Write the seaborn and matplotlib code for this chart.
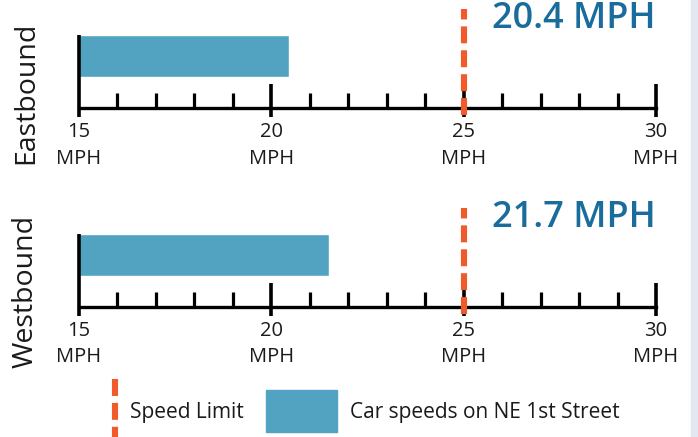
import matplotlib
matplotlib.use("Agg")
import matplotlib.pyplot as plt
from matplotlib.lines import Line2D
from matplotlib.patches import Rectangle
import seaborn as sns
import pandas as pd

# values
directions = ["Eastbound", "Westbound"]
bar_speeds = [20.45, 21.5]
speed_labels = ["20.4 MPH", "21.7 MPH"]
speed_limit = 25
major_ticks = [15, 20, 25, 30]
minor_ticks = list(range(16, 30))
tick_labels = ["15\nMPH", "20\nMPH", "25\nMPH", "30\nMPH"]
legend_labels = ["Speed Limit", "Car speeds on NE 1st Street"]

BAR = "#52a2c1"
ORANGE = "#f15a2b"
BLUE_TXT = "#1a6c9d"
INK = "#1a1a1a"

sns.set_style("white")
plt.rcParams["font.family"] = ["Open Sans", "DejaVu Sans"]
plt.rcParams["lines.scale_dashes"] = False

W, H = 698, 437
fig = plt.figure(figsize=(6.98, 4.37), dpi=100)
fig.patch.set_facecolor("white")
fig.patches.append(Rectangle((691 / W, 0), 1, 1, transform=fig.transFigure,
                             color="#e3e8f0", zorder=-5))

df = pd.DataFrame({"direction": directions, "speed": bar_speeds})

ax_h = 99  # px
axis_px = [108, 306.7]
for i, d in enumerate(directions):
    ax = fig.add_axes([79 / W, 1 - axis_px[i] / H, 577 / W, ax_h / H])
    sns.barplot(data=df[df["direction"] == d], x="speed", y="direction",
                orient="h", color=BAR, width=0.8, saturation=1, ax=ax)
    ax.set_xlim(15, 30)
    # bar centre 52px above axis line, 1 unit = 52.5 px
    ax.set_ylim(0.99, -0.895)
    for b in ax.patches:
        b.set_x(15)
        b.set_width(bar_speeds[i] - 15)
    ax.set_ylabel("")
    ax.set_xlabel("")
    ax.set_yticks([])
    sns.despine(ax=ax, left=True)
    ax.spines["bottom"].set_linewidth(2.4)
    ax.spines["bottom"].set_color("black")

    ax.set_xticks(major_ticks)
    ax.set_xticklabels(tick_labels, fontsize=14.5, color=INK, linespacing=1.45,
                       fontweight="medium")
    ax.set_xticks(minor_ticks, minor=True)
    ax.tick_params(axis="x", which="major", length=0, pad=10)
    ax.tick_params(axis="x", which="minor", direction="in", length=10.8,
                   width=2.3, color="black", bottom=True)

    tr = ax.get_xaxis_transform()
    ax.vlines(major_ticks[1:], -9 / ax_h, 24 / ax_h, colors="black",
              linewidth=2.6, transform=tr, clip_on=False, zorder=3)
    ax.vlines([major_ticks[0]], -9 / ax_h, 73 / ax_h, colors="black",
              linewidth=2.6, transform=tr, clip_on=False, zorder=3)

    ax.axvline(speed_limit, ymin=-7 / ax_h, ymax=1, color=ORANGE,
               linewidth=4.4, linestyle=(0, (12.2, 5.0)), clip_on=False,
               zorder=4)

    fig.text(26 / W, 1 - (axis_px[i] - 15) / H, d, rotation=90,
             ha="center", va="center", fontsize=20.5, color=INK,
             fontweight="medium")
    fig.text(656 / W, 1 - (axis_px[i] - 80) / H, speed_labels[i],
             ha="right", va="baseline", fontsize=26, color=BLUE_TXT,
             fontweight="semibold")

# legend
fig.lines.append(Line2D([115 / W, 115 / W], [1 - 379 / H, -0.05],
                        transform=fig.transFigure, color=ORANGE,
                        linewidth=4.4, linestyle=(0, (12.2, 5.0))))
fig.text(130 / W, 1 - 418 / H, legend_labels[0], ha="left", va="baseline",
         fontsize=15, color=INK, fontweight="medium")
fig.patches.append(Rectangle((266 / W, 1 - 432 / H), 71 / W, 42 / H,
                             transform=fig.transFigure, color=BAR))
fig.text(350 / W, 1 - 418 / H, legend_labels[1], ha="left", va="baseline",
         fontsize=15, color=INK, fontweight="medium")

fig.savefig("out.png", dpi=100)
